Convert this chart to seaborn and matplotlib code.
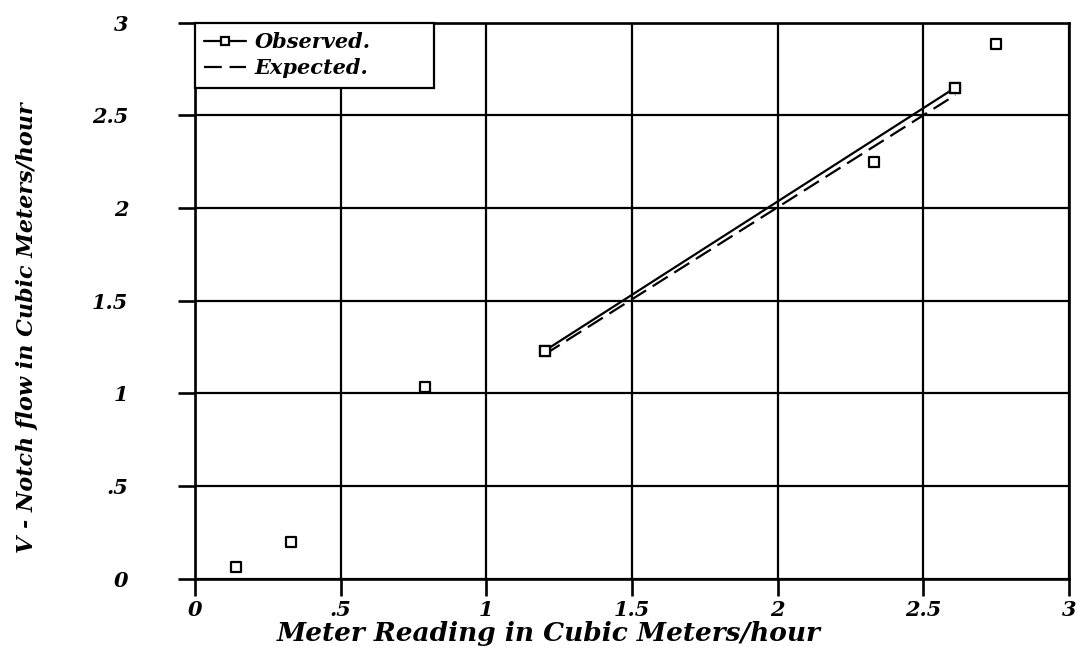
import matplotlib
matplotlib.use("Agg")
import matplotlib.pyplot as plt
import seaborn as sns
import pandas as pd

# Calibration readings: meter reading vs. V-notch flow (m^3/hour)
meter_reading = [0.14, 0.33, 0.79, 1.20, 2.33, 2.61, 2.75]
vnotch_flow = [0.065, 0.20, 1.035, 1.23, 2.25, 2.65, 2.885]

# Observed trend line and expected (1:1) line
observed_x = [1.20, 2.61]
observed_y = [1.23, 2.65]
expected_x = [1.20, 2.61]
expected_y = [1.21, 2.61]

tick_values = [0, 0.5, 1, 1.5, 2, 2.5, 3]
tick_labels = ["0", ".5", "1", "1.5", "2", "2.5", "3"]

sns.set_style("white")
plt.rcParams["font.family"] = ["DejaVu Serif", "DejaVu Sans"]
plt.rcParams["font.weight"] = "bold"
plt.rcParams["font.style"] = "italic"
for key in ["text.color", "axes.labelcolor", "xtick.color", "ytick.color",
            "xtick.labelcolor", "ytick.labelcolor"]:
    plt.rcParams[key] = "black"

fig = plt.figure(figsize=(10.8, 6.51), dpi=100)
ax = fig.add_axes([0.1806, 0.111, 0.8092, 0.8541])

points = pd.DataFrame({"x": meter_reading, "y": vnotch_flow})
obs = pd.DataFrame({"x": observed_x, "y": observed_y})
exp = pd.DataFrame({"x": expected_x, "y": expected_y})

sns.lineplot(data=obs, x="x", y="y", ax=ax, color="black", linewidth=1.6,
             marker="s", markersize=7.5, markerfacecolor="white",
             markeredgecolor="black", markeredgewidth=1.6,
             label="Observed.", sort=False, zorder=4)
sns.lineplot(data=exp, x="x", y="y", ax=ax, color="black", linewidth=1.6,
             dashes=(8, 3.5), label="Expected.", sort=False, zorder=3)
sns.scatterplot(data=points, x="x", y="y", ax=ax, marker="s", s=60,
                facecolor="white", edgecolor="black", linewidth=1.6,
                zorder=5, legend=False)

ax.set_xlim(0, 3)
ax.set_ylim(0, 3)
ax.set_xticks(tick_values)
ax.set_yticks(tick_values)
ax.set_xticklabels(tick_labels)
ax.set_yticklabels(tick_labels)

ax.grid(True, color="black", linewidth=1.6)
ax.set_axisbelow(True)
for side in ["left", "bottom", "top", "right"]:
    ax.spines[side].set_visible(True)
    ax.spines[side].set_color("black")
    ax.spines[side].set_linewidth(1.9)

ax.tick_params(axis="both", direction="out", length=12, width=1.9,
               color="black", labelcolor="black", labelsize=15,
               bottom=True, left=True)
ax.tick_params(axis="x", pad=3)
ax.tick_params(axis="y", pad=36)

for lab in ax.get_xticklabels() + ax.get_yticklabels():
    lab.set_fontweight("bold")
    lab.set_fontstyle("italic")

ax.set_xlabel("Meter Reading in Cubic Meters/hour", fontsize=19,
              fontweight="bold", fontstyle="italic", color="black")
ax.set_ylabel("V - Notch flow in Cubic Meters/hour", fontsize=16,
              fontweight="bold", fontstyle="italic", color="black")
ax.xaxis.set_label_coords(0.405, -0.076)
ax.yaxis.set_label_coords(-0.18, 0.451)

leg = ax.legend(loc="upper left", bbox_to_anchor=(0, 0.883, 0.2735, 0.117),
                mode="expand", borderaxespad=0, frameon=True,
                fancybox=False, edgecolor="black", framealpha=1,
                prop={"size": 15, "weight": "bold", "style": "italic"},
                handlelength=2.0, handletextpad=0.4, labelspacing=0.3,
                borderpad=0.45)
leg.get_frame().set_linewidth(1.6)
leg.legend_handles[0].set_markersize(6)
for t in leg.get_texts():
    t.set_color("black")

fig.savefig("out.png", dpi=100, facecolor="white")
